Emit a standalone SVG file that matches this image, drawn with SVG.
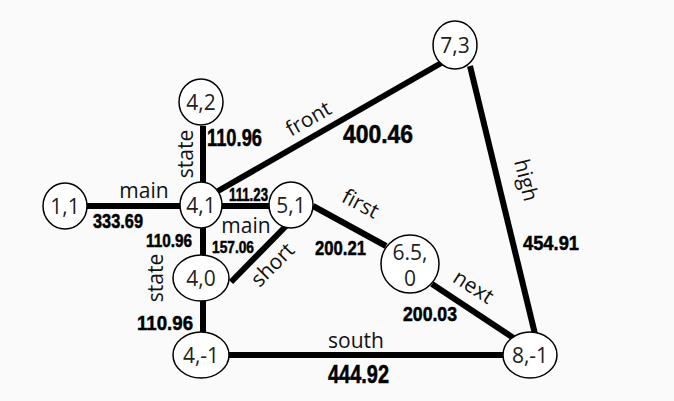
<svg xmlns="http://www.w3.org/2000/svg" width="674" height="401" viewBox="0 0 674 401">
<style>
.bg{fill:#fafafa}
.node ellipse{fill:#ffffff;stroke:#000;stroke-width:1.5}
.node text{font-family:"Open Sans","Noto Sans",sans-serif;font-size:21px;fill:#222;text-anchor:middle;dominant-baseline:central}
.edges line{stroke:#000;stroke-width:6}
.lbl{font-family:"Open Sans","Noto Sans",sans-serif;font-size:21px;fill:#111;text-anchor:middle}
.rl{dominant-baseline:central}
.w{font-family:"Liberation Sans",Arial,sans-serif;font-weight:bold;fill:#000;stroke:#000;stroke-width:0.5}
</style>
<rect class="bg" x="0" y="0" width="674" height="401"/>
<g id="connectors" class="edges">
<line x1="87" y1="206" x2="180" y2="206"/>
<line x1="203" y1="126" x2="203" y2="182"/>
<line x1="222" y1="206" x2="269" y2="206"/>
<line x1="203" y1="228" x2="203" y2="255"/>
<line x1="203" y1="301" x2="203" y2="332"/>
<line x1="229" y1="355" x2="503" y2="355"/>
<line x1="218" y1="191" x2="443" y2="62"/>
<line x1="286" y1="226" x2="231" y2="282"/>
<line x1="313" y1="206" x2="386" y2="246"/>
<line x1="432" y1="284" x2="515" y2="339"/>
<line x1="470" y1="66" x2="535" y2="334"/>
</g>
<g id="labels">
<text class="lbl" x="144" y="198">main</text>
<text class="w" x="93" y="228" font-size="21" textLength="50" lengthAdjust="spacingAndGlyphs">333.69</text>
<text class="lbl rl" transform="translate(185,154) rotate(-90)">state</text>
<text class="w" x="207" y="146" font-size="24" textLength="55" lengthAdjust="spacingAndGlyphs">110.96</text>
<text class="w" x="229" y="201" font-size="18" textLength="39" lengthAdjust="spacingAndGlyphs">111.23</text>
<text class="lbl" x="246" y="233">main</text>
<text class="w" x="146" y="247" font-size="18" textLength="46" lengthAdjust="spacingAndGlyphs">110.96</text>
<text class="w" x="212" y="253" font-size="17" textLength="42" lengthAdjust="spacingAndGlyphs">157.06</text>
<text class="lbl rl" transform="translate(155,278) rotate(-90)">state</text>
<text class="w" x="137" y="330" font-size="21" textLength="56" lengthAdjust="spacingAndGlyphs">110.96</text>
<text class="lbl rl" transform="translate(308,118) rotate(-30)">front</text>
<text class="w" x="343" y="143" font-size="26" textLength="70" lengthAdjust="spacingAndGlyphs">400.46</text>
<text class="lbl rl" transform="translate(272,264) rotate(-45)">short</text>
<text class="lbl rl" transform="translate(361,203) rotate(28)">first</text>
<text class="w" x="315" y="255" font-size="21" textLength="51" lengthAdjust="spacingAndGlyphs">200.21</text>
<text class="lbl rl" transform="translate(474,286) rotate(33)">next</text>
<text class="w" x="403" y="321" font-size="20" textLength="54" lengthAdjust="spacingAndGlyphs">200.03</text>
<text class="lbl rl" transform="translate(527,180) rotate(76)">high</text>
<text class="w" x="523" y="250" font-size="21" textLength="56" lengthAdjust="spacingAndGlyphs">454.91</text>
<text class="lbl" x="356" y="348">south</text>
<text class="w" x="328" y="383" font-size="25" textLength="61" lengthAdjust="spacingAndGlyphs">444.92</text>
</g>
<g id="n11" class="node"><ellipse cx="65" cy="206" rx="22" ry="23"/><text x="65" y="206">1,1</text></g>
<g id="n41" class="node"><ellipse cx="201" cy="205" rx="21" ry="23"/><text x="201" y="205">4,1</text></g>
<g id="n42" class="node"><ellipse cx="201" cy="102" rx="22" ry="23"/><text x="201" y="102">4,2</text></g>
<g id="n51" class="node"><ellipse cx="291" cy="205" rx="22" ry="23"/><text x="291" y="205">5,1</text></g>
<g id="n40" class="node"><ellipse cx="201" cy="278" rx="28" ry="23"/><text x="201" y="278">4,0</text></g>
<g id="n4m1" class="node"><ellipse cx="201" cy="355" rx="28" ry="23"/><text x="201" y="355">4,-1</text></g>
<g id="n73" class="node"><ellipse cx="455" cy="45" rx="22" ry="24"/><text x="455" y="45">7,3</text></g>
<g id="n650" class="node"><ellipse cx="410" cy="264" rx="29" ry="29"/><text x="410" y="252">6.5,</text><text x="410" y="278">0</text></g>
<g id="n8m1" class="node"><ellipse cx="530" cy="355" rx="27" ry="23"/><text x="530" y="355">8,-1</text></g>
</svg>
